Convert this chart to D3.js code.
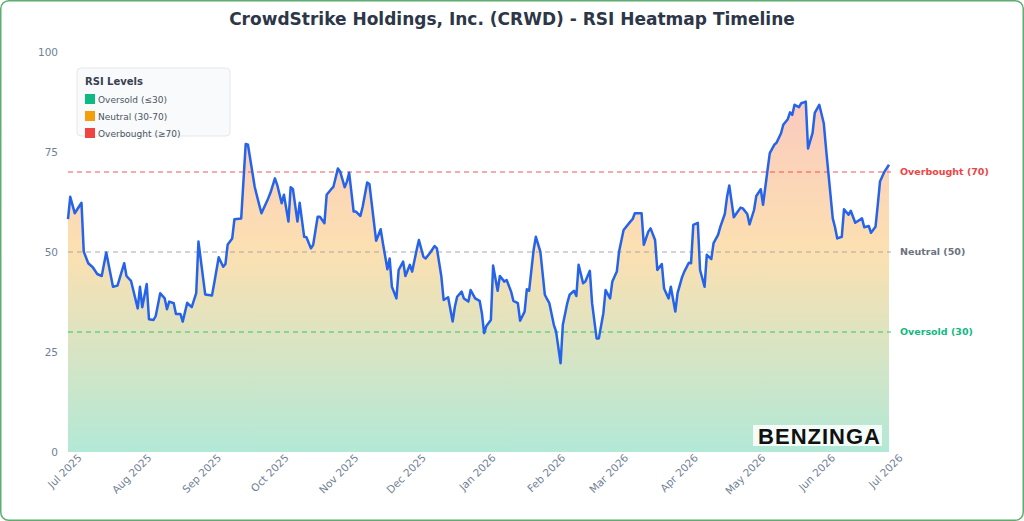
<!DOCTYPE html>
<html>
<head>
<meta charset="utf-8">
<script src="https://cdn.jsdelivr.net/npm/d3@7"></script>
<style>
  body { margin: 0; background: #fff; }
  svg { display: block; font-family: "DejaVu Sans", sans-serif; }
</style>
</head>
<body>
<div id="rsiChart"></div>
<script>
// RSI readings, roughly one per trading session
const dates = [
  '2025-07-01','2025-07-02','2025-07-04','2025-07-07','2025-07-08','2025-07-10','2025-07-12','2025-07-14','2025-07-16','2025-07-18',
  '2025-07-21','2025-07-23','2025-07-26','2025-07-27','2025-07-29','2025-08-01','2025-08-02','2025-08-03','2025-08-05','2025-08-06',
  '2025-08-08','2025-08-09','2025-08-11','2025-08-13','2025-08-14','2025-08-15','2025-08-17','2025-08-18','2025-08-20','2025-08-21',
  '2025-08-23','2025-08-25','2025-08-27','2025-08-28','2025-08-30','2025-08-31','2025-09-03','2025-09-04','2025-09-06','2025-09-08',
  '2025-09-09','2025-09-10','2025-09-12','2025-09-13','2025-09-16','2025-09-18','2025-09-19','2025-09-22','2025-09-24','2025-09-25',
  '2025-09-28','2025-09-29','2025-10-01','2025-10-02','2025-10-04','2025-10-05','2025-10-07','2025-10-08','2025-10-09','2025-10-11',
  '2025-10-12','2025-10-14','2025-10-15','2025-10-17','2025-10-18','2025-10-20','2025-10-21','2025-10-23','2025-10-24','2025-10-26',
  '2025-10-27','2025-10-29','2025-10-30','2025-11-01','2025-11-02','2025-11-03','2025-11-05','2025-11-06','2025-11-08','2025-11-09',
  '2025-11-11','2025-11-12','2025-11-15','2025-11-17','2025-11-18','2025-11-20','2025-11-21','2025-11-22','2025-11-24','2025-11-25',
  '2025-11-27','2025-11-28','2025-11-30','2025-12-01','2025-12-03','2025-12-04','2025-12-06','2025-12-07','2025-12-09','2025-12-11',
  '2025-12-12','2025-12-14','2025-12-15','2025-12-17','2025-12-19','2025-12-20','2025-12-21','2025-12-23','2025-12-24','2025-12-26',
  '2025-12-27','2025-12-29','2025-12-31','2026-01-01','2026-01-02','2026-01-03','2026-01-05','2026-01-06','2026-01-08','2026-01-09',
  '2026-01-11','2026-01-12','2026-01-14','2026-01-15','2026-01-17','2026-01-18','2026-01-20','2026-01-21','2026-01-22','2026-01-24',
  '2026-01-25','2026-01-27','2026-01-29','2026-01-30','2026-01-31','2026-02-02','2026-02-03','2026-02-05','2026-02-06','2026-02-08',
  '2026-02-09','2026-02-11','2026-02-12','2026-02-13','2026-02-15','2026-02-16','2026-02-18','2026-02-19','2026-02-21','2026-02-22',
  '2026-02-24','2026-02-25','2026-02-27','2026-02-28','2026-03-02','2026-03-03','2026-03-05','2026-03-06','2026-03-08','2026-03-09',
  '2026-03-10','2026-03-13','2026-03-14','2026-03-16','2026-03-17','2026-03-19','2026-03-20','2026-03-22','2026-03-23','2026-03-25',
  '2026-03-26','2026-03-28','2026-03-29','2026-03-31','2026-04-01','2026-04-03','2026-04-04','2026-04-05','2026-04-07','2026-04-08',
  '2026-04-10','2026-04-11','2026-04-13','2026-04-14','2026-04-16','2026-04-17','2026-04-19','2026-04-20','2026-04-21','2026-04-23',
  '2026-04-24','2026-04-26','2026-04-27','2026-04-29','2026-04-30','2026-05-02','2026-05-03','2026-05-05','2026-05-06','2026-05-08',
  '2026-05-09','2026-05-11','2026-05-12','2026-05-14','2026-05-15','2026-05-17','2026-05-18','2026-05-19','2026-05-20','2026-05-22',
  '2026-05-23','2026-05-25','2026-05-26','2026-05-28','2026-05-29','2026-05-31','2026-06-02','2026-06-03','2026-06-06','2026-06-07',
  '2026-06-08','2026-06-10','2026-06-11','2026-06-13','2026-06-14','2026-06-16','2026-06-19','2026-06-20','2026-06-22','2026-06-23',
  '2026-06-25','2026-06-26','2026-06-27','2026-06-29','2026-07-01'
];

const rsiValues = [
  58.2, 63.8, 59.7, 62.3, 50.1, 47.2, 46.2, 44.5, 44.0, 49.9,
  41.3, 41.6, 47.2, 44.0, 42.8, 35.9, 41.3, 36.2, 42.0, 33.2,
  33.0, 34.0, 39.7, 38.4, 35.7, 37.6, 37.2, 34.5, 34.5, 32.6,
  37.3, 36.2, 39.7, 52.6, 43.8, 39.4, 39.1, 42.2, 48.7, 46.3,
  47.0, 51.9, 53.4, 58.2, 58.4, 77.0, 76.8, 66.3, 61.8, 59.7,
  63.4, 64.8, 68.4, 66.8, 62.2, 64.3, 57.6, 66.2, 65.7, 57.6,
  62.3, 53.8, 53.7, 50.9, 51.8, 58.8, 58.8, 57.2, 64.3, 65.7,
  66.3, 70.9, 70.1, 66.2, 67.6, 69.8, 60.1, 60.1, 59.0, 61.3,
  67.4, 67.0, 52.8, 55.7, 52.2, 45.7, 48.4, 41.3, 38.4, 45.5,
  47.6, 44.0, 46.8, 45.1, 50.5, 53.0, 48.8, 48.4, 49.8, 51.5,
  50.9, 43.8, 38.0, 38.7, 32.6, 36.3, 38.8, 40.1, 38.4, 37.6,
  40.5, 38.4, 37.8, 34.7, 29.7, 31.5, 33.0, 46.6, 40.3, 44.0,
  42.6, 43.0, 40.1, 37.8, 37.2, 32.8, 35.1, 40.7, 40.3, 50.5,
  53.8, 50.1, 39.3, 38.2, 37.2, 31.8, 30.1, 22.2, 31.8, 37.3,
  39.3, 40.3, 39.0, 46.8, 42.2, 42.6, 45.3, 37.2, 28.4, 28.4,
  34.7, 40.5, 38.4, 42.6, 45.1, 50.1, 55.5, 56.2, 57.6, 58.2,
  59.7, 59.7, 51.8, 55.1, 55.9, 53.0, 45.5, 47.0, 40.9, 38.4,
  41.3, 35.1, 39.7, 43.7, 45.1, 47.3, 47.2, 56.8, 57.3, 45.5,
  41.3, 49.3, 48.2, 52.2, 54.3, 56.3, 59.5, 63.8, 66.6, 58.7,
  59.5, 61.1, 60.9, 59.5, 56.9, 60.5, 64.0, 65.7, 61.8, 70.5,
  74.7, 76.8, 77.3, 79.7, 81.8, 83.2, 84.9, 84.3, 86.8, 86.2,
  87.2, 87.6, 75.9, 79.7, 84.8, 86.8, 82.2, 75.9, 58.4, 56.2,
  53.4, 53.8, 60.7, 59.3, 60.3, 57.3, 58.4, 56.2, 56.5, 54.8,
  56.3, 61.8, 67.6, 70.1, 71.8
];

const yTicks = [0, 25, 50, 75, 100];

const levels = [
  { value: 70, label: 'Overbought (70)', line: '#ef4444', text: '#ef4444' },
  { value: 50, label: 'Neutral (50)', line: '#9ca3af', text: '#6b7280' },
  { value: 30, label: 'Oversold (30)', line: '#22c55e', text: '#10b981' }
];

const legendItems = [
  { label: 'Oversold (≤30)', color: '#10b981' },
  { label: 'Neutral (30-70)', color: '#f59e0b' },
  { label: 'Overbought (≥70)', color: '#ef4444' }
];

const width = 1024;
const height = 521;
const margin = { top: 52, right: 135, bottom: 69, left: 68 };
const chartWidth = width - margin.left - margin.right;
const chartHeight = height - margin.top - margin.bottom;

const parseDate = d3.timeParse('%Y-%m-%d');
const data = dates.map((d, i) => ({ date: parseDate(d), rsi: rsiValues[i] }));

const svg = d3.select('#rsiChart')
    .append('svg')
    .attr('width', width)
    .attr('height', height);

// Outer frame
svg.append('rect')
    .attr('x', 0.75)
    .attr('y', 0.75)
    .attr('width', width - 1.5)
    .attr('height', height - 1.5)
    .attr('rx', 8)
    .attr('fill', '#fff')
    .attr('stroke', '#5fad6e')
    .attr('stroke-width', 1.5);

// Title
svg.append('text')
    .attr('x', width / 2)
    .attr('y', 25)
    .attr('text-anchor', 'middle')
    .attr('fill', '#2d3748')
    .style('font-size', '17px')
    .style('font-weight', 'bold')
    .text('CrowdStrike Holdings, Inc. (CRWD) - RSI Heatmap Timeline');

const x = d3.scaleTime()
    .domain([parseDate('2025-07-01'), parseDate('2026-07-01')])
    .range([0, chartWidth]);

const y = d3.scaleLinear()
    .domain([0, 100])
    .range([chartHeight, 0]);

const chart = svg.append('g')
    .attr('transform', `translate(${margin.left},${margin.top})`);

// Vertical heat gradient: green (low) -> orange -> red (high)
const gradient = svg.append('defs')
    .append('linearGradient')
    .attr('id', 'rsiGradient')
    .attr('gradientUnits', 'userSpaceOnUse')
    .attr('x1', 0).attr('x2', 0)
    .attr('y1', y(0)).attr('y2', y(100));

[['0%', '#10b981'], ['50%', '#f59e0b'], ['100%', '#ef4444']].forEach(([off, col]) => {
    gradient.append('stop')
        .attr('offset', off)
        .attr('stop-color', col)
        .attr('stop-opacity', 0.32);
});

const area = d3.area()
    .x(d => x(d.date))
    .y0(y(0))
    .y1(d => y(d.rsi));

chart.append('path')
    .datum(data)
    .attr('fill', 'url(#rsiGradient)')
    .attr('d', area);

// Reference levels
levels.forEach(lv => {
    chart.append('line')
        .attr('x1', 0)
        .attr('x2', chartWidth + 2)
        .attr('y1', y(lv.value))
        .attr('y2', y(lv.value))
        .attr('stroke', lv.line)
        .attr('stroke-width', 1.5)
        .attr('stroke-dasharray', '5,4')
        .attr('opacity', 0.6);

    chart.append('text')
        .attr('x', chartWidth + 11)
        .attr('y', y(lv.value))
        .attr('dy', '0.35em')
        .attr('fill', lv.text)
        .style('font-size', '9.5px')
        .style('font-weight', 'bold')
        .text(lv.label);
});

const line = d3.line()
    .x(d => x(d.date))
    .y(d => y(d.rsi));

chart.append('path')
    .datum(data)
    .attr('fill', 'none')
    .attr('stroke', '#2563eb')
    .attr('stroke-width', 2.5)
    .attr('stroke-linejoin', 'round')
    .attr('d', line);

// Y axis (labels only)
const yAxis = chart.append('g')
    .call(d3.axisLeft(y).tickValues(yTicks).tickSize(0).tickPadding(10));
yAxis.select('.domain').remove();
yAxis.selectAll('text')
    .attr('fill', '#718096')
    .style('font-size', '10.5px')
    .style('font-family', '"DejaVu Sans", sans-serif');

// X axis, rotated month labels
const xAxis = chart.append('g')
    .attr('transform', `translate(0,${chartHeight})`)
    .call(d3.axisBottom(x).ticks(d3.timeMonth.every(1)).tickFormat(d3.timeFormat('%b %Y')).tickSize(0));
xAxis.select('.domain').remove();
xAxis.selectAll('text')
    .attr('fill', '#718096')
    .style('font-size', '10.5px')
    .style('font-family', '"DejaVu Sans", sans-serif')
    .style('text-anchor', 'end')
    .attr('dx', '0.5em')
    .attr('dy', '1.1em')
    .attr('transform', 'rotate(-45)');

// Legend
const legend = svg.append('g')
    .attr('transform', 'translate(77,68)');

legend.append('rect')
    .attr('width', 153)
    .attr('height', 68)
    .attr('rx', 4)
    .attr('fill', '#f9fafb')
    .attr('stroke', '#e5e7eb');

legend.append('text')
    .attr('x', 8)
    .attr('y', 17)
    .attr('fill', '#374151')
    .style('font-size', '10px')
    .style('font-weight', 'bold')
    .text('RSI Levels');

legendItems.forEach((item, i) => {
    legend.append('rect')
        .attr('x', 8)
        .attr('y', 26 + i * 17)
        .attr('width', 10)
        .attr('height', 10)
        .attr('fill', item.color);
    legend.append('text')
        .attr('x', 21)
        .attr('y', 35 + i * 17)
        .attr('fill', '#4b5563')
        .style('font-size', '9px')
        .text(item.label);
});

// Watermark
const mark = svg.append('g')
    .attr('transform', `translate(${margin.left + chartWidth - 8},${margin.top + chartHeight - 8})`);
mark.append('rect')
    .attr('x', -128)
    .attr('y', -19)
    .attr('width', 129)
    .attr('height', 21)
    .attr('fill', '#fff')
    .attr('opacity', 0.85);
mark.append('text')
    .attr('text-anchor', 'end')
    .attr('fill', '#111')
    .style('font-family', '"Liberation Sans", Arial, sans-serif')
    .style('font-size', '22px')
    .style('font-weight', 'bold')
    .style('letter-spacing', '1px')
    .text('BENZINGA');
</script>
</body>
</html>
